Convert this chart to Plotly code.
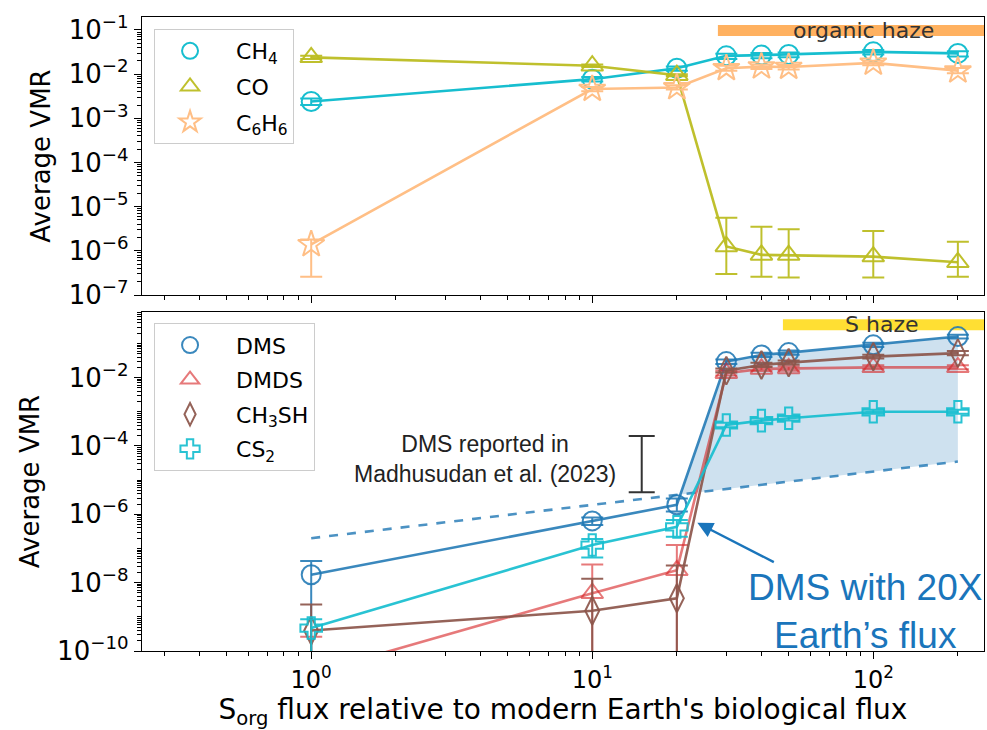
import numpy as np
import plotly.graph_objects as go

# ---------------- data ----------------
flux = [1, 10, 20, 30, 40, 50, 100, 200]

# top panel
ch4 = [2.4e-3, 7.7e-3, 1.36e-2, 2.6e-2, 2.7e-2, 2.8e-2, 3.2e-2, 2.95e-2]
ch4_hi = [2.8e-3, 8.6e-3, 1.5e-2, 2.9e-2, 3.0e-2, 3.1e-2, 3.5e-2, 3.3e-2]
ch4_lo = [2.0e-3, 6.8e-3, 1.2e-2, 2.2e-2, 2.3e-2, 2.4e-2, 2.8e-2, 2.5e-2]

co = [2.4e-2, 1.55e-2, 9.5e-3, 1.26e-6, 8.1e-7, 8.0e-7, 7.4e-7, 5.5e-7]
co_hi = [2.6e-2, 1.65e-2, 1.0e-2, 5.6e-6, 3.5e-6, 3.1e-6, 2.8e-6, 1.6e-6]
co_lo = [2.2e-2, 1.45e-2, 9.0e-3, 3.0e-7, 2.6e-7, 2.5e-7, 2.5e-7, 2.6e-7]

c6h6 = [1.4e-6, 4.6e-3, 5.0e-3, 1.36e-2, 1.48e-2, 1.45e-2, 1.8e-2, 1.2e-2]
c6h6_hi = [1.8e-6, 5.1e-3, 5.6e-3, 1.55e-2, 1.65e-2, 1.62e-2, 2.0e-2, 1.38e-2]
c6h6_lo = [2.6e-7, 4.1e-3, 4.5e-3, 1.2e-2, 1.3e-2, 1.28e-2, 1.6e-2, 1.05e-2]

# bottom panel
dms = [1.7e-8, 6.4e-7, 1.9e-6, 2.95e-2, 4.6e-2, 5.4e-2, 9.1e-2, 0.159]
dms_hi = [4.3e-8, 8.1e-7, 2.9e-6, 3.4e-2, 5.3e-2, 6.2e-2, 1.05e-1, 0.18]
dms_lo = [1e-13, 4.9e-7, 1.2e-6, 2.5e-2, 4.0e-2, 4.7e-2, 7.9e-2, 0.14]

dmds = [2.2e-11, 4.9e-9, 2.3e-8, 1.35e-2, 1.8e-2, 1.85e-2, 2.0e-2, 2.0e-2]
dmds_hi = [2.6e-10, 3.4e-8, 1.26e-7, 1.6e-2, 2.1e-2, 2.15e-2, 2.3e-2, 2.3e-2]
dmds_lo = [1e-13, 1e-13, 1e-13, 1.15e-2, 1.55e-2, 1.6e-2, 1.75e-2, 1.75e-2]

ch3sh = [4.0e-10, 1.5e-9, 3.5e-9, 1.6e-2, 2.35e-2, 2.75e-2, 4.1e-2, 5.2e-2]
ch3sh_hi = [2.3e-9, 1.3e-8, 3.2e-8, 1.85e-2, 2.7e-2, 3.15e-2, 4.7e-2, 6.0e-2]
ch3sh_lo = [1e-13, 1e-13, 1e-13, 1.4e-2, 2.05e-2, 2.4e-2, 3.6e-2, 4.5e-2]

cs2 = [4.7e-10, 1.26e-7, 4.3e-7, 4.1e-4, 5.5e-4, 6.5e-4, 1.0e-3, 1.0e-3]
cs2_hi = [8.5e-10, 1.9e-7, 6.8e-7, 4.8e-4, 6.4e-4, 7.5e-4, 1.15e-3, 1.15e-3]
cs2_lo = [1e-13, 5.4e-8, 2.2e-7, 3.5e-4, 4.7e-4, 5.6e-4, 8.7e-4, 8.7e-4]

# dashed reference line (scaled Earth-like DMS)
dashed_x = [1, 200]
dashed_y = [2.0e-7, 3.5e-5]

# Madhusudhan et al. (2023) DMS range
mad_x = [15]
mad_lo = [4.4e-6]
mad_hi = [1.95e-4]

# haze regions
org_haze_x = [28, 300]
org_haze_y = [0.097, 0.097]
s_haze_x = [47.7, 300]
s_haze_y = [0.35, 0.35]

# ---------------- styling ----------------
FONT = "DejaVu Sans"
ARIAL = "Liberation Sans"
PAD = "\u2002"

C_CH4 = "#17becf"
C_CO = "rgba(188,189,34,0.95)"
C_C6H6 = "#ffbf86"
C_DMS = "rgba(31,119,180,0.88)"
C_DMDS = "rgba(214,39,40,0.62)"
C_CH3SH = "rgba(140,86,75,0.92)"
C_CS2 = "rgba(23,190,207,0.92)"

fig = go.Figure()


def err(vals, hi, lo):
    v = np.array(vals)
    return dict(type="data", symmetric=False,
                array=(np.array(hi) - v).tolist(),
                arrayminus=(v - np.array(lo)).tolist(),
                thickness=2, width=11)


def add_series(name, y, hi, lo, color, symbol, xa, ya, legend, size=19):
    e = err(y, hi, lo)
    e["color"] = color
    fig.add_trace(go.Scatter(
        x=flux, y=y, mode="lines+markers", name=name, showlegend=False,
        line=dict(color=color, width=2.6),
        marker=dict(symbol=symbol, size=size, color=color, line=dict(width=2, color=color)),
        error_y=e, xaxis=xa, yaxis=ya))
    fig.add_trace(go.Scatter(
        x=[None], y=[None], mode="markers", name=PAD + name, legend=legend,
        legendgroup=name,
        marker=dict(symbol=symbol, size=size, color=color, line=dict(width=2, color=color)),
        xaxis=xa, yaxis=ya))


# haze bars
fig.add_trace(go.Scatter(x=org_haze_x, y=org_haze_y, mode="lines", showlegend=False,
                         line=dict(color="rgba(255,140,20,0.68)", width=11),
                         xaxis="x", yaxis="y", hoverinfo="skip"))
fig.add_trace(go.Scatter(x=s_haze_x, y=s_haze_y, mode="lines", showlegend=False,
                         line=dict(color="rgba(255,215,0,0.8)", width=11),
                         xaxis="x2", yaxis="y2", hoverinfo="skip"))

# top panel series
add_series("CH<sub>4</sub>", ch4, ch4_hi, ch4_lo, C_CH4, "circle-open", "x", "y", "legend")
add_series("CO", co, co_hi, co_lo, C_CO, "triangle-up-open", "x", "y", "legend")
add_series("C<sub>6</sub>H<sub>6</sub>", c6h6, c6h6_hi, c6h6_lo, C_C6H6, "star-open", "x", "y", "legend", size=20)

# shaded area between dashed line and DMS
lx = np.log10(flux)
ld = np.log10(dms)
gx = np.log10(dashed_x)
gy = np.log10(dashed_y)
g = np.interp(lx, gx, gy)
diff = ld - g
i = int(np.where((diff[:-1] < 0) & (diff[1:] >= 0))[0][0])
t = -diff[i] / (diff[i + 1] - diff[i])
xc = lx[i] + t * (lx[i + 1] - lx[i])
yc = ld[i] + t * (ld[i + 1] - ld[i])
poly_x = [10 ** xc] + flux[i + 1:] + [dashed_x[-1], 10 ** xc]
poly_y = [10 ** yc] + dms[i + 1:] + [dashed_y[-1], 10 ** yc]
fig.add_trace(go.Scatter(x=poly_x, y=poly_y, mode="lines", fill="toself",
                         fillcolor="rgba(31,119,180,0.22)", line=dict(width=0),
                         showlegend=False, hoverinfo="skip", xaxis="x2", yaxis="y2"))

fig.add_trace(go.Scatter(x=dashed_x, y=dashed_y, mode="lines", showlegend=False,
                         line=dict(color="rgba(31,119,180,0.8)", width=2.6, dash="dash"),
                         xaxis="x2", yaxis="y2"))

# Madhusudhan range bar
mad_mid = np.sqrt(np.array(mad_lo) * np.array(mad_hi))
fig.add_trace(go.Scatter(
    x=mad_x, y=mad_mid.tolist(), mode="markers", showlegend=False,
    marker=dict(size=1, color="rgba(0,0,0,0)"),
    error_y=dict(type="data", symmetric=False,
                 array=(np.array(mad_hi) - mad_mid).tolist(),
                 arrayminus=(mad_mid - np.array(mad_lo)).tolist(),
                 color="#333333", thickness=2, width=13),
    xaxis="x2", yaxis="y2", hoverinfo="skip"))

# bottom panel series
add_series("DMS", dms, dms_hi, dms_lo, C_DMS, "circle-open", "x2", "y2", "legend2")
add_series("DMDS", dmds, dmds_hi, dmds_lo, C_DMDS, "triangle-up-open", "x2", "y2", "legend2")
add_series("CH<sub>3</sub>SH", ch3sh, ch3sh_hi, ch3sh_lo, C_CH3SH, "diamond-tall-open", "x2", "y2", "legend2", size=20)
add_series("CS<sub>2</sub>", cs2, cs2_hi, cs2_lo, C_CS2, "cross-open", "x2", "y2", "legend2", size=18)

# ---------------- axes ----------------
xr = [np.log10(0.25), 2.394]
x_major = [1, 10, 100]
x_text = ["10<sup>0</sup>", "10<sup>1</sup>", "10<sup>2</sup>"]
x_minor = [m * 10 ** d for d in range(-1, 3) for m in range(2, 10) if 0.25 <= m * 10 ** d <= 250]

y1_major = [10.0 ** p for p in range(-7, 0)]
y1_text = ["10<sup>\u2212%d</sup>" % (-p) for p in range(-7, 0)]
y1_minor = [m * 10.0 ** d for d in range(-7, 0) for m in range(2, 10)]

y2_major = [10.0 ** p for p in range(-10, 0, 2)]
y2_text = ["10<sup>\u2212%d</sup>" % (-p) for p in range(-10, 0, 2)]
y2_minor = [m * 10.0 ** d for d in range(-10, 0) for m in range(1, 10)
            if not (m == 1 and d % 2 == 0)]

common = dict(showline=True, linecolor="black", linewidth=1.4, mirror=True,
              ticks="outside", ticklen=7, tickwidth=1.3, tickcolor="black",
              showgrid=False, zeroline=False)
minor = dict(ticks="outside", ticklen=4, tickwidth=1, tickcolor="black", showgrid=False)

fig.update_layout(
    width=987, height=730,
    margin=dict(l=142, r=3, t=17, b=79),
    plot_bgcolor="white", paper_bgcolor="white",
    font=dict(family=FONT, size=24, color="black"),
    xaxis=dict(type="log", range=xr, domain=[0, 1], anchor="y", matches="x2",
               tickmode="array", tickvals=x_major, ticktext=x_text, showticklabels=False,
               minor=dict(tickmode="array", tickvals=x_minor, **minor), **common),
    xaxis2=dict(type="log", range=xr, domain=[0, 1], anchor="y2",
                tickmode="array", tickvals=x_major, ticktext=x_text,
                tickfont=dict(size=24),
                minor=dict(tickmode="array", tickvals=x_minor, **minor),
                title=dict(text="S<sub>org</sub> flux relative to modern Earth's biological flux",
                           font=dict(size=28), standoff=6),
                **common),
    yaxis=dict(type="log", range=[-7, -0.706], domain=[0.5615, 1], anchor="x",
               tickmode="array", tickvals=y1_major, ticktext=y1_text,
               tickfont=dict(size=26),
               minor=dict(tickmode="array", tickvals=y1_minor, **minor),
               title=dict(text="Average VMR", font=dict(size=26), standoff=10),
               **common),
    yaxis2=dict(type="log", range=[-10, -0.08], domain=[0, 0.5347], anchor="x2",
                tickmode="array", tickvals=y2_major, ticktext=y2_text,
                tickfont=dict(size=26),
                minor=dict(tickmode="array", tickvals=y2_minor, **minor),
                title=dict(text="Average VMR", font=dict(size=26), standoff=10),
                **common),
    legend=dict(x=0.0143, y=0.981, xanchor="left", yanchor="top",
                font=dict(family=FONT, size=22), bordercolor="#cccccc", borderwidth=1,
                bgcolor="rgba(255,255,255,0.85)", tracegroupgap=4, traceorder="grouped",
                itemwidth=60),
    legend2=dict(x=0.0143, y=0.517, xanchor="left", yanchor="top",
                 font=dict(family=FONT, size=22), bordercolor="#cccccc", borderwidth=1,
                 bgcolor="rgba(255,255,255,0.85)", tracegroupgap=3, traceorder="grouped",
                 itemwidth=60),
    showlegend=True,
)

# ---------------- annotations ----------------
ann = []
ann.append(dict(x=np.log10(92), y=np.log10(0.097), xref="x", yref="y", text="organic haze",
                showarrow=False, font=dict(family=FONT, size=22, color="#333333"),
                xanchor="center", yanchor="middle"))
ann.append(dict(x=np.log10(107), y=np.log10(0.35), xref="x2", yref="y2", text="S haze",
                showarrow=False, font=dict(family=FONT, size=22, color="#333333"),
                xanchor="center", yanchor="middle"))
ann.append(dict(x=0.619, y=-4.38, xref="x2", yref="y2",
                text="DMS reported in<br>Madhusudan et al. (2023)",
                showarrow=False, font=dict(family=ARIAL, size=23, color="#222222"),
                xanchor="center", yanchor="middle", align="center"))
ann.append(dict(x=1.374, y=-6.25, xref="x2", yref="y2", text="",
                showarrow=True, arrowhead=2, arrowsize=1.3, arrowwidth=2.4,
                arrowcolor="#1a75bb", ax=78, ay=40, axref="pixel", ayref="pixel"))
ann.append(dict(x=1.971, y=-8.83, xref="x2", yref="y2",
                text="DMS with 20X<br>Earth\u2019s flux",
                showarrow=False, font=dict(family=ARIAL, size=37, color="#1a75bb"),
                xanchor="center", yanchor="middle", align="center"))
fig.update_layout(annotations=ann)

fig.write_html("out.html", config={"displayModeBar": False},
               post_script="document.body.style.margin='0';document.body.style.overflow='hidden';")
